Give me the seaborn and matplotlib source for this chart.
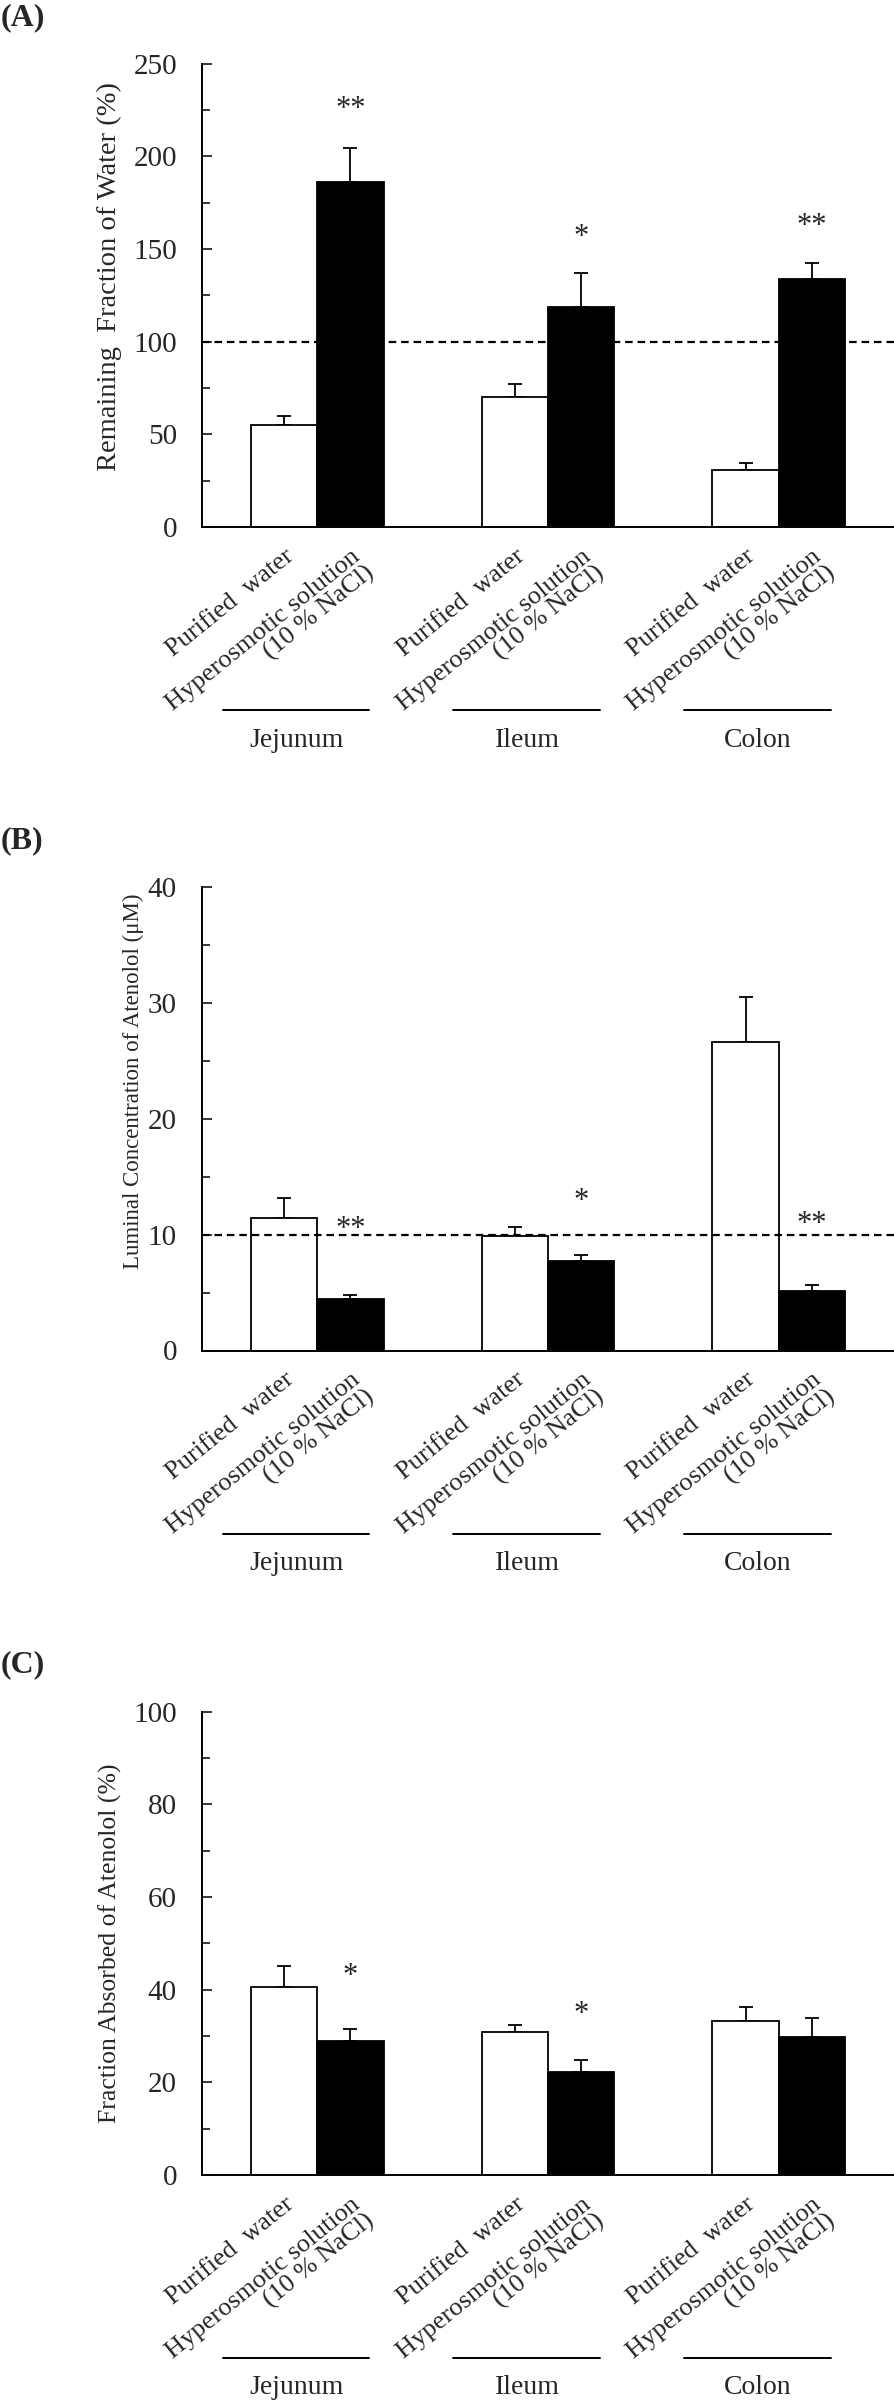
import numpy as np
import pandas as pd
import seaborn as sns
import matplotlib
matplotlib.use("Agg")
import matplotlib.pyplot as plt
import matplotlib.transforms as mtransforms

# ---------------- data ----------------
groups = ["Jejunum", "Ileum", "Colon"]
treatments = ["Purified  water", "Hyperosmotic solution\n(10 % NaCl)"]

a_water = [55.0, 70.0, 31.0]
a_water_err = [5.0, 7.0, 3.7]
a_hyper = [186.0, 118.5, 134.0]
a_hyper_err = [18.5, 18.5, 8.3]
a_stars = ["**", "*", "**"]
a_star_y = [225, 156, 162]

b_water = [11.4, 9.9, 26.6]
b_water_err = [1.8, 0.8, 3.9]
b_hyper = [4.45, 7.75, 5.15]
b_hyper_err = [0.3, 0.5, 0.5]
b_stars = ["**", "*", "**"]
b_star_y = [10.4, 12.9, 10.9]

c_water = [40.6, 30.9, 33.3]
c_water_err = [4.4, 1.5, 3.0]
c_hyper = [29.0, 22.2, 29.8]
c_hyper_err = [2.5, 2.7, 4.0]
c_stars = ["*", "*", ""]
c_star_y = [42.8, 34.7, 0]

panels = [
    dict(tag="(A)", water=a_water, water_err=a_water_err, hyper=a_hyper, hyper_err=a_hyper_err,
         stars=a_stars, star_y=a_star_y, ylim=(0, 250), major=50, minor=25, ref=100,
         ylabel="Remaining  Fraction of Water (%)", ylabel_size=20.5, ylabel_y=0.54,
         ylabel_pad=8),
    dict(tag="(B)", water=b_water, water_err=b_water_err, hyper=b_hyper, hyper_err=b_hyper_err,
         stars=b_stars, star_y=b_star_y, ylim=(0, 40), major=10, minor=5, ref=10,
         ylabel="Luminal Concentration of Atenolol (\u03bcM)", ylabel_size=16.5, ylabel_y=0.58,
         ylabel_pad=3),
    dict(tag="(C)", water=c_water, water_err=c_water_err, hyper=c_hyper, hyper_err=c_hyper_err,
         stars=c_stars, star_y=c_star_y, ylim=(0, 100), major=20, minor=10, ref=None,
         ylabel="Fraction Absorbed of Atenolol (%)", ylabel_size=18.5, ylabel_y=0.50,
         ylabel_pad=8),
]

# ---------------- style ----------------
sns.set_theme(style="ticks")
plt.rcParams["font.family"] = ["Liberation Serif", "DejaVu Serif"]

W, H = 894, 2403
fig = plt.figure(figsize=(W / 100, H / 100), dpi=100)

left_px = 202
ax_h_px = 463.5
bottoms_px = [527, 1350.5, 2175]
tag_tops_px = [3, 826, 1650]

for p, bot, tagtop in zip(panels, bottoms_px, tag_tops_px):
    ax = fig.add_axes([left_px / W, (H - bot) / H, (W - left_px) / W, ax_h_px / H])
    df = pd.DataFrame({
        "group": groups * 2,
        "treatment": [treatments[0]] * 3 + [treatments[1]] * 3,
        "value": p["water"] + p["hyper"],
        "err": p["water_err"] + p["hyper_err"],
    })
    sns.barplot(data=df, x="group", y="value", hue="treatment", order=groups,
                hue_order=treatments, palette=["white", "black"], width=0.574,
                edgecolor="black", linewidth=1.3, errorbar=None, legend=False, ax=ax)

    # bar centres from the drawn patches
    bars = sorted(ax.patches, key=lambda r: r.get_x())
    centers = [b.get_x() + b.get_width() / 2 for b in bars]
    heights = [b.get_height() for b in bars]
    errs = []
    for g in groups:
        row = df[df.group == g]
        errs += list(row["err"])
    ax.errorbar(centers, heights, yerr=[np.zeros(len(errs)), errs], fmt="none",
                ecolor="black", elinewidth=1.3, capsize=5, capthick=1.3, zorder=1)
    for b in bars:
        b.set_zorder(2)

    if p["ref"] is not None:
        ax.axhline(p["ref"], color="black", lw=1.6, ls=(0, (3.4, 2.2)), zorder=3)

    # significance marks above the hyperosmotic bars
    hyper_centers = centers[1::2]
    for xc, s, sy in zip(hyper_centers, p["stars"], p["star_y"]):
        if s:
            ax.text(xc, sy, s, ha="center", va="center", fontsize=22, zorder=4)

    ax.set_xlim(-0.5, 2.5)
    ax.set_ylim(*p["ylim"])
    ax.set_yticks(np.arange(p["ylim"][0], p["ylim"][1] + 0.01, p["major"]))
    ax.set_yticks(np.arange(p["ylim"][0], p["ylim"][1] + 0.01, p["minor"]), minor=True)
    ax.tick_params(axis="y", which="major", direction="in", length=7, width=1.3,
                   labelsize=21, pad=18)
    ax.tick_params(axis="y", which="minor", direction="in", length=5.5, width=1.3)
    ax.set_xticks(centers)
    ax.set_xticklabels([treatments[i % 2] for i in range(len(centers))],
                       rotation=39, ha="right", rotation_mode="anchor",
                       fontsize=19, linespacing=0.95)
    shift = mtransforms.ScaledTranslation(5 / 100, 0, fig.dpi_scale_trans)
    for lab in ax.get_xticklabels():
        lab.set_multialignment("right")
        lab.set_transform(lab.get_transform() + shift)
    ax.tick_params(axis="x", length=0, pad=13)
    for side in ["top", "right"]:
        ax.spines[side].set_visible(False)
    for side in ["left", "bottom"]:
        ax.spines[side].set_linewidth(1.4)
        ax.spines[side].set_color("black")
    ax.set_xlabel("")
    ax.set_ylabel(p["ylabel"], fontsize=p["ylabel_size"], labelpad=p["ylabel_pad"])
    ax.yaxis.label.set_y(p["ylabel_y"])

    # group bracket lines and names
    trans = mtransforms.blended_transform_factory(ax.transData, ax.transAxes)
    line_y = -183 / ax_h_px
    text_y = -213 / ax_h_px
    for gi, g in enumerate(groups):
        ax.plot([gi - 0.41, gi + 0.225], [line_y, line_y], color="black", lw=1.4,
                transform=trans, clip_on=False)
        ax.text(gi - 0.09, text_y, g, transform=trans, ha="center", va="center",
                fontsize=20)

    fig.text(1 / W, 1 - tagtop / H, p["tag"], ha="left", va="top", fontsize=23,
             fontweight="bold")

fig.savefig("out.png", dpi=100)
